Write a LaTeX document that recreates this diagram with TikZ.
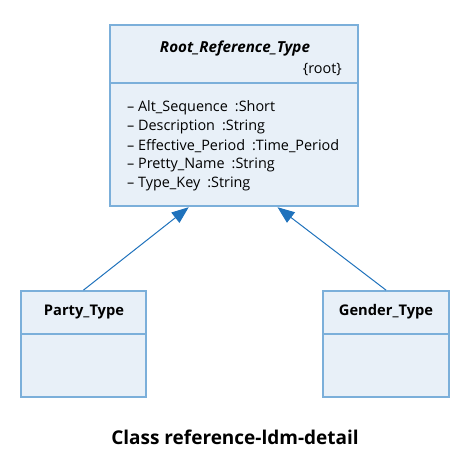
\documentclass[tikz,border=0pt]{standalone}
\usepackage{fontspec}
\setmainfont{Open Sans}
\usetikzlibrary{arrows.meta}
\definecolor{boxfill}{HTML}{E8F0F8}
\definecolor{boxline}{HTML}{7BAFDA}
\definecolor{arrowblue}{HTML}{1F72BC}
\tikzset{
  classbox/.style={draw=boxline, fill=boxfill, line width=1.8pt, rectangle, inner sep=0pt},
  divider/.style={draw=boxline, line width=1.8pt},
  attr/.style={anchor=west, font=\fontsize{14.4}{16}\selectfont, inner sep=0pt},
  cname/.style={font=\fontsize{14.7}{16}\selectfont\bfseries, inner sep=0pt},
  genarrow/.style={draw=arrowblue, line width=1pt, -{Triangle[length=17pt,width=13pt]}, shorten >=0.5pt},
}
\newcommand{\gap}{\hspace{7pt}}
\begin{document}
\begin{tikzpicture}[x=1pt,y=-1pt]
\useasboundingbox (0,0) rectangle (470,465);
% root class
\node[classbox, minimum width=248pt, minimum height=181pt] (root) at (234,115.5) {};
\draw[divider] ([yshift=-59pt]root.north west) -- ([yshift=-59pt]root.north east);
\node[cname, font=\fontsize{15.2}{16}\selectfont\bfseries\itshape] (rootname) at (235,49) {Root\_Reference\_Type};
\node[attr, anchor=east] (rootster) at (342,70) {\{root\}};
\node[attr] (a1) at (127,108) {\textendash\ Alt\_Sequence\gap:Short};
\node[attr] (a2) at (127,127) {\textendash\ Description\gap:String};
\node[attr] (a3) at (127,146) {\textendash\ Effective\_Period\gap:Time\_Period};
\node[attr] (a4) at (127,165) {\textendash\ Pretty\_Name\gap:String};
\node[attr] (a5) at (127,184) {\textendash\ Type\_Key\gap:String};
% party
\node[classbox, minimum width=125pt, minimum height=106pt] (party) at (83.5,344) {};
\draw[divider] ([yshift=-44pt]party.north west) -- ([yshift=-44pt]party.north east);
\node[cname] (partyname) at (84,312) {Party\_Type};
% gender
\node[classbox, minimum width=126pt, minimum height=106pt] (gender) at (386,344) {};
\draw[divider] ([yshift=-44pt]gender.north west) -- ([yshift=-44pt]gender.north east);
\node[cname] (gendername) at (386,312) {Gender\_Type};
% arrows
\coordinate (tipL) at ([xshift=80pt]root.south west);
\coordinate (tipR) at ([xshift=168pt]root.south west);
\draw[genarrow] (party.north) -- (tipL);
\draw[genarrow] (gender.north) -- (tipR);
% caption
\node[font=\fontsize{19}{22}\selectfont\bfseries, inner sep=0pt] (caption) at (235,437) {Class reference-ldm-detail};
\end{tikzpicture}
\end{document}
